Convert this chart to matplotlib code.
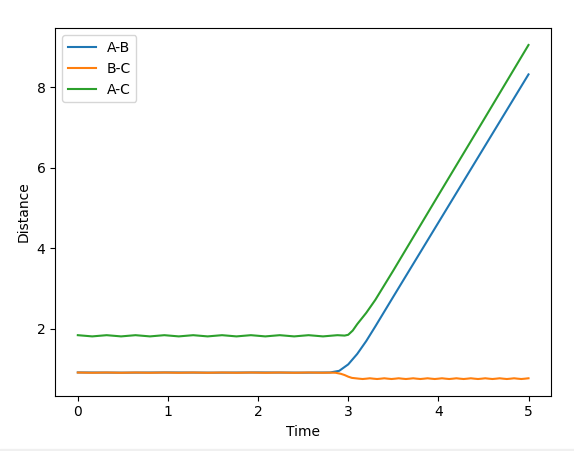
import matplotlib
matplotlib.use("Agg")
import matplotlib.pyplot as plt
from matplotlib.patches import Rectangle

plt.rcParams['font.size'] = 10

# A-B distance
t_ab = [0.0, 0.5, 1.0, 1.5, 2.0, 2.5, 2.8, 2.9, 3.0, 3.1, 3.2, 3.3, 3.4, 3.5, 4.0, 4.5, 5.0]
ab = [0.92, 0.915, 0.92, 0.915, 0.92, 0.915, 0.92, 0.96, 1.12, 1.38, 1.70, 2.06, 2.43, 2.80, 4.64, 6.48, 8.32]

# B-C distance
t_bc = [0.0, 0.08, 0.16, 0.24, 0.32, 0.40, 0.48, 0.56, 0.64, 0.72, 0.80, 0.88, 0.96, 1.04,
        1.12, 1.20, 1.28, 1.36, 1.44, 1.52, 1.60, 1.68, 1.76, 1.84, 1.92, 2.00, 2.08, 2.16,
        2.24, 2.32, 2.40, 2.48, 2.56, 2.64, 2.72, 2.80, 2.86, 2.92, 2.96, 3.00, 3.04,
        3.08, 3.12, 3.16, 3.20, 3.24, 3.28, 3.32, 3.36, 3.40, 3.44, 3.48, 3.52, 3.56, 3.60,
        3.64, 3.68, 3.72, 3.76, 3.80, 3.84, 3.88, 3.92, 3.96, 4.00, 4.04, 4.08, 4.12, 4.16,
        4.20, 4.24, 4.28, 4.32, 4.36, 4.40, 4.44, 4.48, 4.52, 4.56, 4.60, 4.64, 4.68, 4.72,
        4.76, 4.80, 4.84, 4.88, 4.92, 4.96, 5.00]
bc = [0.918, 0.915, 0.912, 0.915, 0.918, 0.915, 0.912, 0.915, 0.918, 0.915, 0.912, 0.915,
      0.918, 0.915, 0.912, 0.915, 0.918, 0.915, 0.912, 0.915, 0.918, 0.915, 0.912, 0.915,
      0.918, 0.915, 0.912, 0.915, 0.918, 0.915, 0.912, 0.915, 0.918, 0.915, 0.912, 0.915,
      0.912, 0.885, 0.855, 0.815, 0.785,
      0.775, 0.765, 0.757, 0.765, 0.775, 0.765, 0.757, 0.765, 0.775, 0.765, 0.757, 0.765,
      0.775, 0.765, 0.757, 0.765, 0.775, 0.765, 0.757, 0.765, 0.775, 0.765, 0.757, 0.765,
      0.775, 0.765, 0.757, 0.765, 0.775, 0.765, 0.757, 0.765, 0.775, 0.765, 0.757, 0.765,
      0.775, 0.765, 0.757, 0.765, 0.775, 0.765, 0.757, 0.765, 0.775, 0.765, 0.757, 0.765,
      0.775]

# A-C distance
t_ac = [0.0, 0.08, 0.16, 0.24, 0.32, 0.40, 0.48, 0.56, 0.64, 0.72, 0.80, 0.88, 0.96, 1.04,
        1.12, 1.20, 1.28, 1.36, 1.44, 1.52, 1.60, 1.68, 1.76, 1.84, 1.92, 2.00, 2.08, 2.16,
        2.24, 2.32, 2.40, 2.48, 2.56, 2.64, 2.72, 2.80, 2.88, 2.96, 3.00, 3.05, 3.10, 3.20,
        3.30, 3.50, 4.00, 4.50, 5.00]
ac = [1.845, 1.83, 1.815, 1.83, 1.845, 1.83, 1.815, 1.83, 1.845, 1.83, 1.815, 1.83, 1.845, 1.83,
      1.815, 1.83, 1.845, 1.83, 1.815, 1.83, 1.845, 1.83, 1.815, 1.83, 1.845, 1.83, 1.815, 1.83,
      1.845, 1.83, 1.815, 1.83, 1.845, 1.83, 1.815, 1.83, 1.845, 1.835, 1.855, 1.96, 2.12, 2.40,
      2.72, 3.45, 5.32, 7.18, 9.05]

fig = plt.figure(figsize=(5.74, 4.51), dpi=100)
ax = fig.add_axes([0.0963, 0.1226, 0.8637, 0.8147])

ax.plot(t_ab, ab, label="A-B")
ax.plot(t_bc, bc, label="B-C")
ax.plot(t_ac, ac, label="A-C")

ax.set_xlabel("Time")
ax.set_ylabel("Distance")
ax.legend(loc="upper left")

# thin grey strip along the bottom edge
fig.add_artist(Rectangle((0, 0), 1, 2 / 451, transform=fig.transFigure,
                         color="#f0f0f0", zorder=-1))

fig.savefig("out.png", dpi=100)
